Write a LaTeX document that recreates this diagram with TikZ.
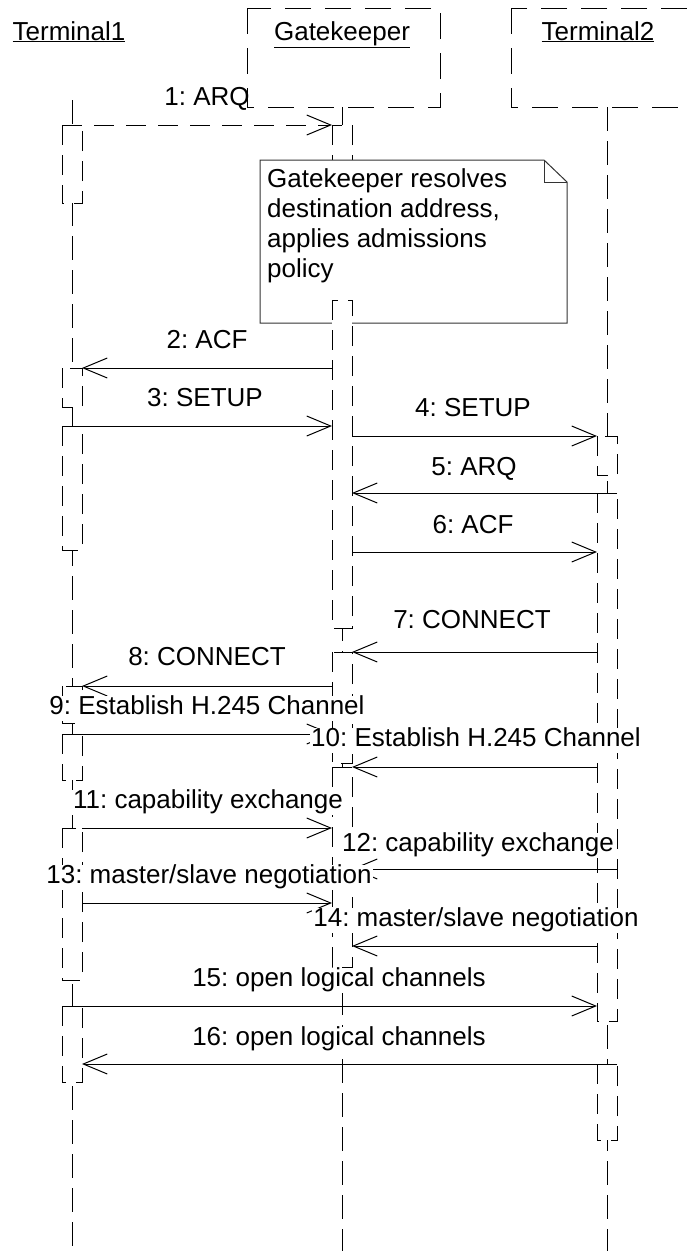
\documentclass[tikz,border=0pt]{standalone}
\usepackage{fontspec}
\setmainfont{Liberation Sans}
\usetikzlibrary{arrows.meta, calc}
\frenchspacing

\tikzset{
  lifeline/.style={line width=1pt, dash pattern=on 24pt off 10pt},
  actbar/.style={draw, fill=white, line width=1pt, dash pattern=on 20pt off 10pt},
  headbox/.style={line width=1pt, dash pattern=on 26pt off 14pt},
  msg/.style={line width=1pt, -{Straight Barb[length=24pt,width=20pt]}},
  msglbl/.style={fill=white, inner sep=1pt, text height=18pt, text depth=5pt,
    font=\fontsize{26}{30}\selectfont},
  headlbl/.style={anchor=base, font=\fontsize{26}{30}\selectfont},
}

\begin{document}
\begin{tikzpicture}[x=1pt, y=-1pt]
  \useasboundingbox (0,0) rectangle (687,1251);

  % Object heads
  \draw[headbox] (247,8) rectangle (440,107);
  \draw[headbox] (511,8) rectangle (700,107);
  \node[headlbl] (t1) at (69,40) {\underline{Terminal1}};
  \node[headlbl] (gk) at (342,40) {\underline{Gatekeeper}};
  \node[headlbl] (t2) at (598,40) {\underline{Terminal2}};

  % Edges of the activation bars
  \coordinate (t1l) at (62,0);  \coordinate (t1r) at (82,0);
  \coordinate (gkl) at (332,0); \coordinate (gkr) at (352,0);
  \coordinate (t2l) at (597,0); \coordinate (t2r) at (617,0);

  % Lifelines
  \draw[lifeline] (72,100) -- (72,1251);
  \draw[lifeline] (342,107) -- (342,1251);
  \draw[lifeline] (607,107) -- (607,1251);

  % Activation bars, Terminal1
  \draw[actbar] (62,125) rectangle (82,203);
  \draw[actbar] (62,368) rectangle (82,407);
  \draw[actbar] (62,426) rectangle (82,550);
  \draw[actbar] (62,686) rectangle (82,723);
  \draw[actbar] (62,734) rectangle (82,780);
  \draw[actbar] (62,828) rectangle (82,980);
  \draw[actbar] (62,1006) rectangle (82,1082);

  % Activation bars, Terminal2
  \draw[actbar] (597,436) rectangle (617,475);
  \draw[actbar] (597,493) rectangle (617,1021);
  \draw[actbar] (597,1064) rectangle (617,1140);

  % Activation bars, Gatekeeper (first one under the note)
  \draw[actbar] (332,125) rectangle (352,260);

  % Note
  \draw[line width=1pt, draw=black!80, fill=white] (260,160) -- (544,160) -- (567,182)
    -- (567,323) -- (260,323) -- cycle;
  \draw[line width=1pt, black!80] (544,160) |- (567,182);
  \node[anchor=north west, align=left, inner sep=3pt,
    font=\fontsize{26}{30}\selectfont] (note) at (264,165)
    {Gatekeeper resolves\\destination address,\\applies admissions\\policy};

  \draw[actbar] (332,300) rectangle (352,628);
  \draw[actbar] (332,652) rectangle (352,763);
  \draw[actbar] (332,767) rectangle (352,967);

  % Messages
  \draw[msg, dash pattern=on 20pt off 12pt] ($(t1l)+(0,125)$) -- ($(gkl)+(0,125)$);
  \draw[msg] ($(gkl)+(0,368)$) -- ($(t1r)+(0,368)$);
  \draw[msg] ($(t1l)+(0,426)$) -- ($(gkl)+(0,426)$);
  \draw[msg] ($(gkr)+(0,436)$) -- ($(t2l)+(0,436)$);
  \draw[msg] ($(t2r)+(0,493)$) -- ($(gkr)+(0,493)$);
  \draw[msg] ($(gkr)+(0,552)$) -- ($(t2l)+(0,552)$);
  \draw[msg] ($(t2l)+(0,652)$) -- ($(gkr)+(0,652)$);
  \draw[msg] ($(gkl)+(0,686)$) -- ($(t1r)+(0,686)$);
  \draw[msg] ($(t1l)+(0,734)$) -- ($(gkl)+(0,734)$);
  \draw[msg] ($(t2l)+(0,767)$) -- ($(gkr)+(0,767)$);
  \draw[msg] ($(t1r)+(0,828)$) -- ($(gkl)+(0,828)$);
  \draw[msg] ($(t2r)+(0,869)$) -- ($(gkr)+(0,869)$);
  \draw[msg] ($(t1r)+(0,903)$) -- ($(gkl)+(0,903)$);
  \draw[msg] ($(t2l)+(0,946)$) -- ($(gkr)+(0,946)$);
  \draw[msg] ($(t1l)+(0,1006)$) -- ($(t2l)+(0,1006)$);
  \draw[msg] ($(t2r)+(0,1064)$) -- ($(t1r)+(0,1064)$);

  % Message labels
  \node[msglbl, fill=none] (l1) at (207,99) {1: ARQ};
  \node[msglbl] (l2) at (207,342) {2: ACF};
  \node[msglbl] (l3) at (205,400) {3: SETUP};
  \node[msglbl] (l4) at (473,410) {4: SETUP};
  \node[msglbl] (l5) at (474,469) {5: ARQ};
  \node[msglbl] (l6) at (473,527) {6: ACF};
  \node[msglbl] (l7) at (472,622) {7: CONNECT};
  \node[msglbl] (l8) at (207,659) {8: CONNECT};
  \node[msglbl] (l9) at (207,708) {9: Establish H.245 Channel};
  \node[msglbl] (l10) at (476,740) {10: Establish H.245 Channel};
  \node[msglbl] (l11) at (208,802) {11: capability exchange};
  \node[msglbl] (l12) at (478,845) {12: capability exchange};
  \node[msglbl] (l13) at (209,877) {13: master/slave negotiation};
  \node[msglbl] (l14) at (476,920) {14: master/slave negotiation};
  \node[msglbl] (l15) at (339,980) {15: open logical channels};
  \node[msglbl] (l16) at (339,1039) {16: open logical channels};
\end{tikzpicture}
\end{document}
